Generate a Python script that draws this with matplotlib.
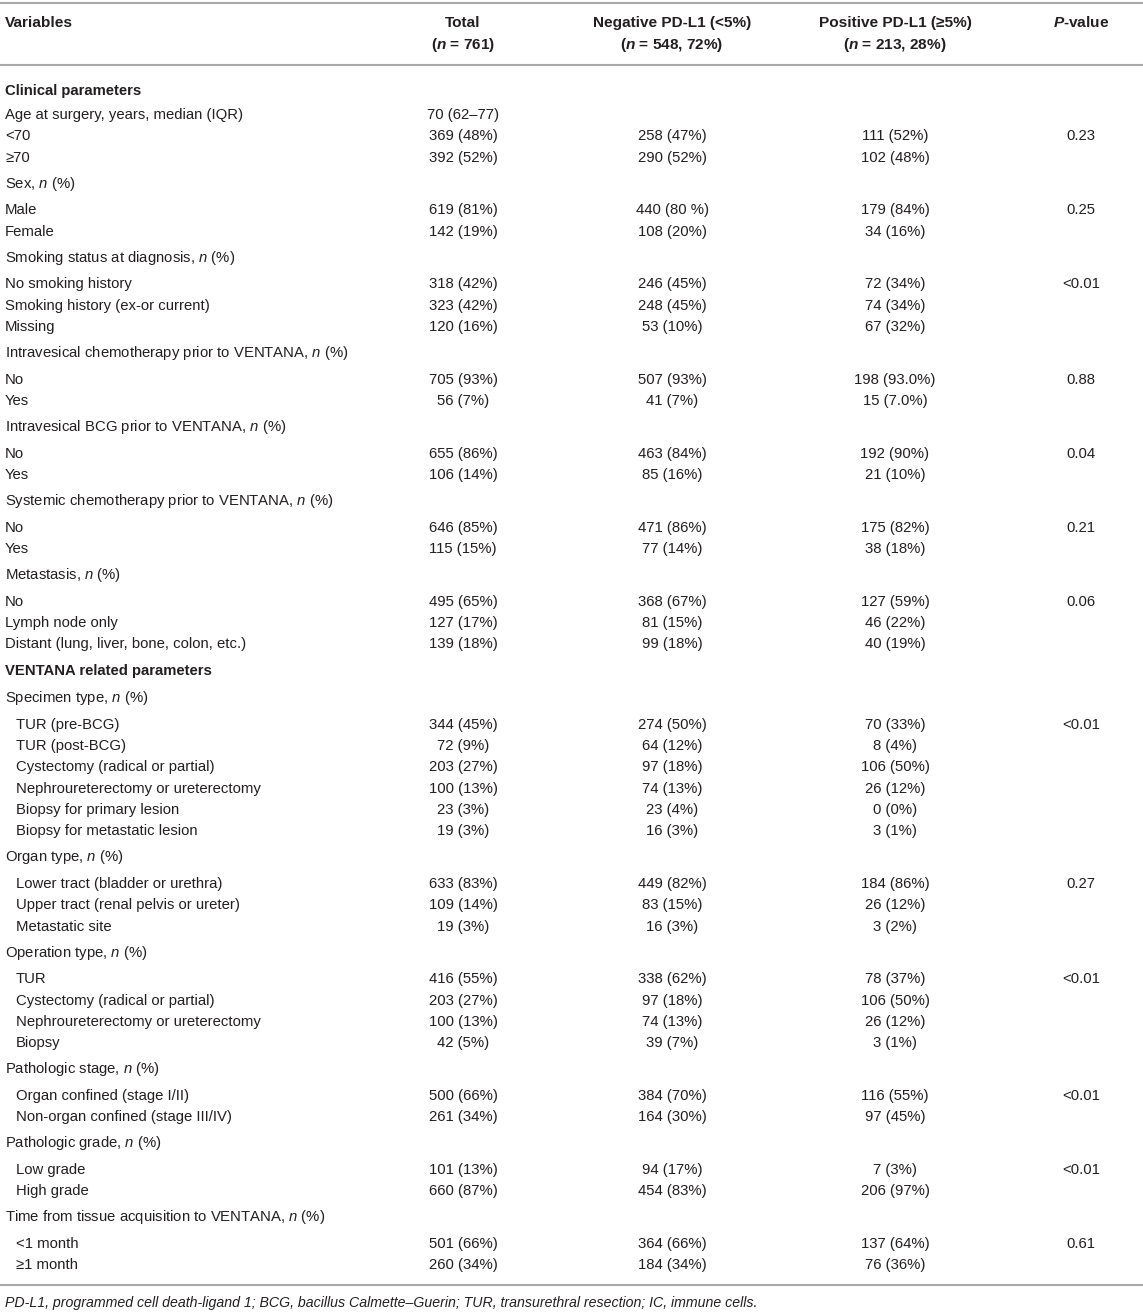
import matplotlib
matplotlib.use("Agg")
import matplotlib.pyplot as plt

plt.rcParams['font.family'] = ['Liberation Sans', 'DejaVu Sans']
plt.rcParams['mathtext.fontset'] = 'custom'
plt.rcParams['mathtext.rm'] = 'Liberation Sans'
plt.rcParams['mathtext.it'] = 'Liberation Sans:italic'
plt.rcParams['mathtext.bf'] = 'Liberation Sans:bold'
plt.rcParams['mathtext.bfit'] = 'Liberation Sans:italic:bold'

# header
col_heads = ["Variables", "Total", "Negative PD-L1 (<5%)", "Positive PD-L1 (≥5%)", "$\\mathbfit{P}$-value"]
col_subs = ["", "($\\mathbfit{n}$ = 761)", "($\\mathbfit{n}$ = 548, 72%)", "($\\mathbfit{n}$ = 213, 28%)", ""]

# rows: S = section, C = category, I = item, J = indented item
row_kind = ["S", "I", "I", "I", "C", "I", "I", "C", "I", "I", "I", "C", "I", "I",
            "C", "I", "I", "C", "I", "I", "C", "I", "I", "I",
            "S", "C", "J", "J", "J", "J", "J", "J", "C", "J", "J", "J",
            "C", "J", "J", "J", "J", "C", "J", "J", "C", "J", "J", "C", "J", "J"]
row_labels = [
    "Clinical parameters",
    "Age at surgery, years, median (IQR)", "<70", "≥70",
    "Sex, $n$ (%)", "Male", "Female",
    "Smoking status at diagnosis, $n$ (%)", "No smoking history", "Smoking history (ex-or current)", "Missing",
    "Intravesical chemotherapy prior to VENTANA, $n$ (%)", "No", "Yes",
    "Intravesical BCG prior to VENTANA, $n$ (%)", "No", "Yes",
    "Systemic chemotherapy prior to VENTANA, $n$ (%)", "No", "Yes",
    "Metastasis, $n$ (%)", "No", "Lymph node only", "Distant (lung, liver, bone, colon, etc.)",
    "VENTANA related parameters",
    "Specimen type, $n$ (%)", "TUR (pre-BCG)", "TUR (post-BCG)", "Cystectomy (radical or partial)",
    "Nephroureterectomy or ureterectomy", "Biopsy for primary lesion", "Biopsy for metastatic lesion",
    "Organ type, $n$ (%)", "Lower tract (bladder or urethra)", "Upper tract (renal pelvis or ureter)", "Metastatic site",
    "Operation type, $n$ (%)", "TUR", "Cystectomy (radical or partial)", "Nephroureterectomy or ureterectomy", "Biopsy",
    "Pathologic stage, $n$ (%)", "Organ confined (stage I/II)", "Non-organ confined (stage III/IV)",
    "Pathologic grade, $n$ (%)", "Low grade", "High grade",
    "Time from tissue acquisition to VENTANA, $n$ (%)", "<1 month", "≥1 month",
]
total_vals = ["", "70 (62–77)", "369 (48%)", "392 (52%)", "", "619 (81%)", "142 (19%)",
              "", "318 (42%)", "323 (42%)", "120 (16%)", "", "705 (93%)", "56 (7%)",
              "", "655 (86%)", "106 (14%)", "", "646 (85%)", "115 (15%)",
              "", "495 (65%)", "127 (17%)", "139 (18%)",
              "", "", "344 (45%)", "72 (9%)", "203 (27%)", "100 (13%)", "23 (3%)", "19 (3%)",
              "", "633 (83%)", "109 (14%)", "19 (3%)",
              "", "416 (55%)", "203 (27%)", "100 (13%)", "42 (5%)",
              "", "500 (66%)", "261 (34%)", "", "101 (13%)", "660 (87%)", "", "501 (66%)", "260 (34%)"]
neg_vals = ["", "", "258 (47%)", "290 (52%)", "", "440 (80 %)", "108 (20%)",
            "", "246 (45%)", "248 (45%)", "53 (10%)", "", "507 (93%)", "41 (7%)",
            "", "463 (84%)", "85 (16%)", "", "471 (86%)", "77 (14%)",
            "", "368 (67%)", "81 (15%)", "99 (18%)",
            "", "", "274 (50%)", "64 (12%)", "97 (18%)", "74 (13%)", "23 (4%)", "16 (3%)",
            "", "449 (82%)", "83 (15%)", "16 (3%)",
            "", "338 (62%)", "97 (18%)", "74 (13%)", "39 (7%)",
            "", "384 (70%)", "164 (30%)", "", "94 (17%)", "454 (83%)", "", "364 (66%)", "184 (34%)"]
pos_vals = ["", "", "111 (52%)", "102 (48%)", "", "179 (84%)", "34 (16%)",
            "", "72 (34%)", "74 (34%)", "67 (32%)", "", "198 (93.0%)", "15 (7.0%)",
            "", "192 (90%)", "21 (10%)", "", "175 (82%)", "38 (18%)",
            "", "127 (59%)", "46 (22%)", "40 (19%)",
            "", "", "70 (33%)", "8 (4%)", "106 (50%)", "26 (12%)", "0 (0%)", "3 (1%)",
            "", "184 (86%)", "26 (12%)", "3 (2%)",
            "", "78 (37%)", "106 (50%)", "26 (12%)", "3 (1%)",
            "", "116 (55%)", "97 (45%)", "", "7 (3%)", "206 (97%)", "", "137 (64%)", "76 (36%)"]
p_vals = ["", "", "0.23", "", "", "0.25", "",
          "", "<0.01", "", "", "", "0.88", "",
          "", "0.04", "", "", "0.21", "",
          "", "0.06", "", "",
          "", "", "<0.01", "", "", "", "", "",
          "", "0.27", "", "",
          "", "<0.01", "", "", "",
          "", "<0.01", "", "", "<0.01", "", "", "0.61", ""]

footnote = ("PD-L1, programmed cell death-ligand 1; BCG, bacillus Calmette–Guerin; "
            "TUR, transurethral resection; IC, immune cells.")

W, H = 1143, 1313
fig = plt.figure(figsize=(W / 100, H / 100), dpi=100)
ax = fig.add_axes([0, 0, 1, 1])
ax.set_xlim(0, W)
ax.set_ylim(H, 0)
ax.axis('off')

ink = '#231f20'
rule = '#a9a9a9'
fs = 10.7
col_x = [5, 463, 672, 895, 1081]

# horizontal rules
for yy in [3, 65, 1285]:
    ax.plot([0, W], [yy, yy], color=rule, lw=1.5, solid_capstyle='butt')

# header
for i in range(5):
    ha = 'left' if i == 0 else 'center'
    ax.text(col_x[i], 27, col_heads[i], ha=ha, va='baseline', fontsize=11.1,
            fontweight='bold', color=ink)
    if col_subs[i]:
        ax.text(col_x[i], 49, col_subs[i], ha=ha, va='baseline', fontsize=11.1,
                fontweight='bold', color=ink)

# row positions from the gaps between kinds of row
gap = {("S", "I"): 24, ("I", "I"): 21.3, ("I", "J"): 21.3, ("J", "J"): 21.3,
       ("I", "C"): 26, ("J", "C"): 26, ("C", "I"): 26.7, ("C", "J"): 26.7,
       ("I", "S"): 27, ("S", "C"): 27}
ys = [90]
for k in range(1, len(row_kind)):
    ys.append(ys[-1] + gap[(row_kind[k - 1], row_kind[k])])

for k, lab in enumerate(row_labels):
    y = ys[k] + 5
    kind = row_kind[k]
    x0 = 16 if kind == "J" else 5
    ax.text(x0, y, lab, ha='left', va='baseline', fontsize=fs, color=ink,
            fontweight='bold' if kind == "S" else 'normal')
    for i, vals in enumerate([total_vals, neg_vals, pos_vals, p_vals]):
        if vals[k]:
            ax.text(col_x[i + 1], y, vals[k], ha='center', va='baseline',
                    fontsize=fs, color=ink)

ax.text(5, 1307, footnote, ha='left', va='baseline', fontsize=10.2,
        style='italic', color=ink)

fig.savefig('out.png', dpi=100)
